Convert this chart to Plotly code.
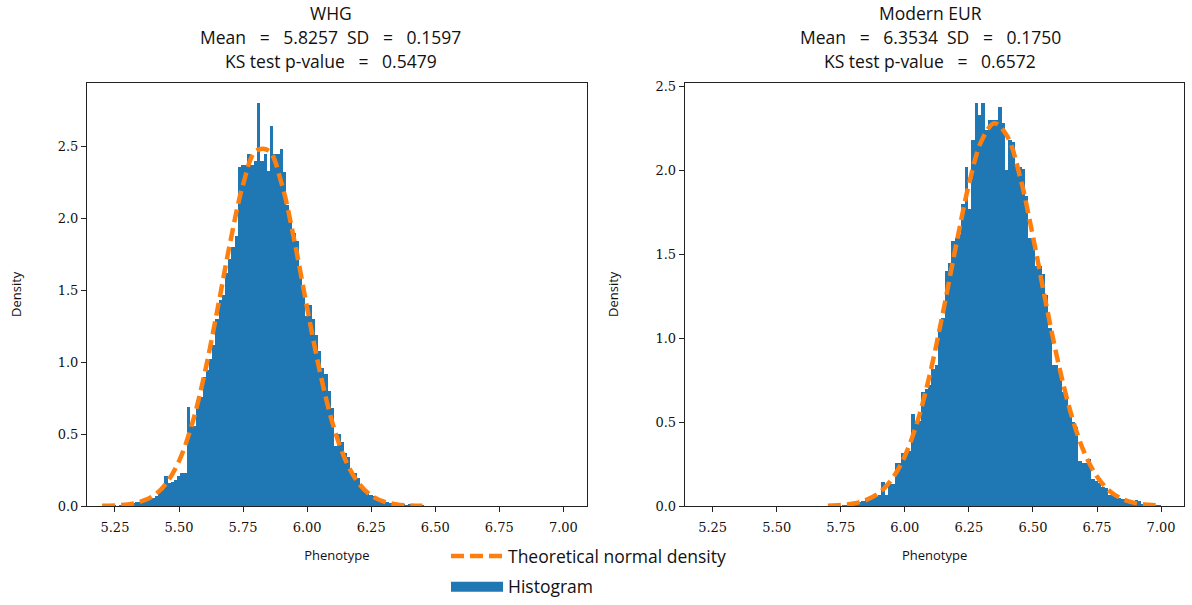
import numpy as np
import plotly.graph_objects as go

# histogram densities (one value per bin)
whg_start = 5.205
whg_width = 0.0125
whg_density = [0.002, 0.0, 0.003, 0.004, 0.0, 0.006, 0.008, 0.025, 0.012, 0.02,
               0.03, 0.03, 0.035, 0.045, 0.055, 0.06, 0.075, 0.10, 0.11, 0.21,
               0.16, 0.17, 0.18, 0.21, 0.23, 0.23, 0.69, 0.56, 0.56, 0.74,
               0.76, 0.90, 0.95, 1.02, 1.12, 1.30, 1.43, 1.47, 1.62, 1.72,
               1.80, 1.88, 2.36, 2.37, 2.37, 2.45, 2.37, 2.40, 2.80, 2.40,
               2.45, 2.33, 2.64, 2.45, 2.45, 2.48, 2.32, 2.09, 2.00, 1.90,
               1.84, 1.62, 1.50, 1.32, 1.40, 1.30, 1.19, 1.08, 0.96, 0.92,
               0.80, 0.68, 0.42, 0.50, 0.45, 0.37, 0.34, 0.25, 0.23, 0.20,
               0.13, 0.11, 0.10, 0.08, 0.07, 0.05, 0.04, 0.04, 0.03, 0.025,
               0.02, 0.02, 0.015, 0.015, 0.01, 0.015, 0.01, 0.005, 0.004, 0.003,
               0.002]

eur_start = 5.700
eur_width = 0.013
eur_density = [0.0, 0.0, 0.003, 0.0, 0.004, 0.005, 0.008, 0.026, 0.02, 0.026,
               0.03, 0.05, 0.055, 0.055, 0.06, 0.07, 0.145, 0.065, 0.135, 0.135,
               0.26, 0.26, 0.32, 0.32, 0.33, 0.55, 0.51, 0.51, 0.68, 0.70,
               0.72, 0.82, 0.84, 1.08, 1.12, 1.40, 1.45, 1.58, 1.60, 1.62,
               1.80, 2.02, 1.77, 2.18, 2.40, 2.33, 2.40, 2.24, 2.30, 2.30,
               2.30, 2.38, 2.28, 2.00, 2.18, 2.17, 2.04, 2.02, 2.01, 1.85,
               1.60, 1.58, 1.43, 1.43, 1.38, 1.26, 1.06, 0.84, 0.84, 0.80,
               0.68, 0.64, 0.56, 0.50, 0.47, 0.27, 0.26, 0.26, 0.28, 0.16,
               0.15, 0.14, 0.115, 0.11, 0.065, 0.075, 0.075, 0.05, 0.045, 0.04,
               0.026, 0.025, 0.036, 0.03, 0.012, 0.01, 0.008, 0.006, 0.004, 0.003]

# theoretical normal density curve, read at 0.05 steps
whg_curve_x = [5.20, 5.25, 5.30, 5.35, 5.40, 5.45, 5.50, 5.55, 5.60, 5.65, 5.70, 5.75, 5.80,
               5.85, 5.90, 5.95, 6.00, 6.05, 6.10, 6.15, 6.20, 6.25, 6.30, 6.35, 6.40, 6.45]
whg_curve_y = [0.001, 0.004, 0.011, 0.030, 0.071, 0.157, 0.312, 0.563, 0.920, 1.364, 1.833, 2.232, 2.466,
               2.469, 2.242, 1.845, 1.377, 0.932, 0.571, 0.318, 0.160, 0.073, 0.030, 0.011, 0.004, 0.001]

eur_curve_x = [5.70, 5.75, 5.80, 5.85, 5.90, 5.95, 6.00, 6.05, 6.10, 6.15, 6.20, 6.25, 6.30, 6.35,
               6.40, 6.45, 6.50, 6.55, 6.60, 6.65, 6.70, 6.75, 6.80, 6.85, 6.90, 6.95, 7.00]
eur_curve_y = [0.002, 0.006, 0.015, 0.036, 0.079, 0.160, 0.297, 0.507, 0.799, 1.161, 1.552, 1.914, 2.176, 2.279,
               2.200, 1.958, 1.605, 1.212, 0.845, 0.542, 0.320, 0.175, 0.088, 0.041, 0.017, 0.007, 0.002]

titles = [["WHG", "Mean = 5.8257 SD = 0.1597", "KS test p-value = 0.5479"],
          ["Modern EUR", "Mean = 6.3534 SD = 0.1750", "KS test p-value = 0.6572"]]
x_ticks = [5.25, 5.50, 5.75, 6.00, 6.25, 6.50, 6.75, 7.00]
y_ticks = [0.0, 0.5, 1.0, 1.5, 2.0, 2.5]

BLUE = '#1f77b4'
ORANGE = '#ff7f0e'
SANS = 'Open Sans, sans-serif'
SERIF = 'DejaVu Serif, Liberation Serif, serif'

W, H = 1192, 605

fig = go.Figure()

panels = [
    (whg_start, whg_width, whg_density, whg_curve_x, whg_curve_y, 'x', 'y'),
    (eur_start, eur_width, eur_density, eur_curve_x, eur_curve_y, 'x2', 'y2'),
]
for start, width, dens, cx, cy, xa, ya in panels:
    centers = start + width * (np.arange(len(dens)) + 0.5)
    fig.add_trace(go.Bar(x=centers, y=dens, width=width * 1.04, marker_color=BLUE,
                         marker_line_width=0, showlegend=False, xaxis=xa, yaxis=ya))
    fig.add_trace(go.Scatter(x=cx, y=cy, mode='lines', line_shape='spline',
                             line=dict(color=ORANGE, width=4.5, dash='13px,6px'),
                             name='Theoretical normal density', showlegend=(xa == 'x'),
                             legendrank=1, legendgroup='a', xaxis=xa, yaxis=ya))

# legend-only entry so the histogram swatch is a wide block as in the original
fig.add_trace(go.Scatter(x=[None], y=[None], mode='lines', name='Histogram',
                         line=dict(color=BLUE, width=13), legendrank=2,
                         legendgroup='b', xaxis='x', yaxis='y'))


def px_x(p):
    return p / W


def px_y(p):
    return (H - p) / H


axis_common = dict(showline=True, mirror=True, linecolor='#222', linewidth=1,
                   ticks='outside', ticklen=5, tickcolor='#222', showgrid=False,
                   zeroline=False, automargin=False,
                   tickfont=dict(family=SERIF, size=13, color='#111'))
xt = dict(text='Phenotype', font=dict(family=SANS, size=13, color='#111'), standoff=17)
yt = dict(text='Density', font=dict(family=SANS, size=13, color='#111'), standoff=33)

fig.update_layout(
    width=W, height=H,
    margin=dict(l=0, r=0, t=0, b=0),
    paper_bgcolor='white', plot_bgcolor='white',
    barmode='overlay', bargap=0,
    xaxis=dict(domain=[px_x(87), px_x(586.7)], range=[5.141, 7.091], anchor='y',
               tickvals=x_ticks, tickformat='.2f', title=xt, ticklabelstandoff=4, **axis_common),
    yaxis=dict(domain=[px_y(506), px_y(82.7)], range=[0, 2.940], anchor='x',
               tickvals=y_ticks, tickformat='.1f', title=yt, **axis_common),
    xaxis2=dict(domain=[px_x(684.7), px_x(1184.4)], range=[5.141, 7.091], anchor='y2',
                tickvals=x_ticks, tickformat='.2f', title=xt, ticklabelstandoff=4, **axis_common),
    yaxis2=dict(domain=[px_y(506), px_y(82.7)], range=[0, 2.520], anchor='x2',
                tickvals=y_ticks, tickformat='.1f', title=yt, **axis_common),
    # anchored to the bottom of the page so the legend never pushes the plot margins
    legend=dict(x=px_x(446), y=0, xanchor='left', yanchor='bottom',
                font=dict(family=SANS, size=17.5, color='#111'), tracegroupgap=5,
                itemwidth=52, bgcolor='rgba(0,0,0,0)', borderwidth=0),
    showlegend=True,
)

for cx, lines in zip([331, 930], titles):
    for cy, line in zip([13, 37, 61], lines):
        line = line.replace(' = ', '&nbsp;&nbsp; = &nbsp;&nbsp;').replace(' SD', '&nbsp; SD')
        fig.add_annotation(text=line, x=px_x(cx), y=px_y(cy), xref='paper', yref='paper',
                           xanchor='center', yanchor='middle', showarrow=False,
                           font=dict(family=SANS, size=17.5, color='#111'))

fig.write_html("out.html", config={'displayModeBar': False},
               post_script="document.body.style.margin = '0px';")
